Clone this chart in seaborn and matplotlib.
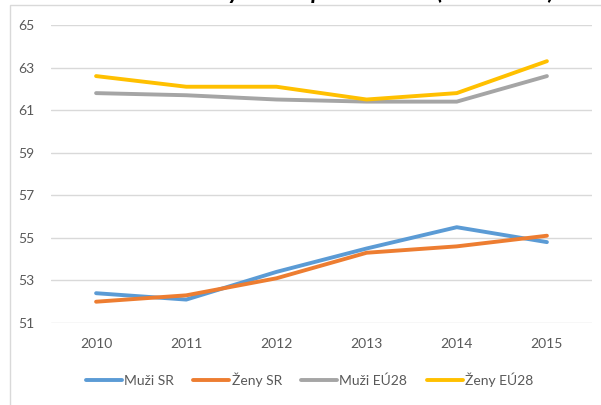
import matplotlib
matplotlib.use("Agg")
import matplotlib.pyplot as plt
import matplotlib.patches as mpatches
import pandas as pd
import seaborn as sns

# ---------- DATA ----------
YEARS = [2010, 2011, 2012, 2013, 2014, 2015]
SERIES = ["Muži SR", "Ženy SR", "Muži EÚ28", "Ženy EÚ28"]
MUZI_SR = [52.4, 52.1, 53.4, 54.5, 55.5, 54.8]
ZENY_SR = [52.0, 52.3, 53.1, 54.3, 54.6, 55.1]
MUZI_EU = [61.8, 61.7, 61.5, 61.4, 61.4, 62.6]
ZENY_EU = [62.6, 62.1, 62.1, 61.5, 61.8, 63.3]
Y_TICKS = [51, 53, 55, 57, 59, 61, 63, 65]
TITLE = "Zdravé roky života pri narodení (SR a EÚ28)"

COLORS = ["#5B9BD5", "#ED7D31", "#A5A5A5", "#FFC000"]

# ---------- LONG FORM ----------
rows = []
for name, vals in zip(SERIES, [MUZI_SR, ZENY_SR, MUZI_EU, ZENY_EU]):
    for y, v in zip(YEARS, vals):
        rows.append({"rok": y, "hodnota": v, "seria": name})
df = pd.DataFrame(rows)

sns.set_theme(style="white")
plt.rcParams["font.family"] = ["Lato", "DejaVu Sans"]

W, H = 601, 405
fig = plt.figure(figsize=(W / 100, H / 100), dpi=100)
ax = fig.add_axes([51 / W, 1 - 323 / H, (592 - 51) / W, (323 - 25) / H])

sns.lineplot(data=df, x="rok", y="hodnota", hue="seria", hue_order=SERIES,
             palette=COLORS, linewidth=2.8, ax=ax, legend=True,
             solid_capstyle="round")

ax.set_xlim(YEARS[0] - 0.5, YEARS[-1] + 0.5)
ax.set_ylim(Y_TICKS[0], Y_TICKS[-1])
ax.set_xticks(YEARS)
ax.set_yticks(Y_TICKS)
ax.set_xlabel("")
ax.set_ylabel("")
ax.grid(axis="y", color="#D9D9D9", linewidth=1.0)
ax.set_axisbelow(True)
for s in ax.spines.values():
    s.set_visible(False)
ax.tick_params(axis="both", length=0, labelsize=10, labelcolor="#595959")
ax.tick_params(axis="y", pad=12)
ax.tick_params(axis="x", pad=11)

ax.legend(loc="center", bbox_to_anchor=(0.515, 1 - 380 / H),
          bbox_transform=fig.transFigure, ncol=4, frameon=False,
          fontsize=10, handlelength=2.6, handletextpad=0.15,
          columnspacing=1.4, labelcolor="#595959")

# chart border (cropped)
fig.patches.append(mpatches.Rectangle((10 / W, -0.1), 1.1, 1 - 5 / H + 0.1,
                                      transform=fig.transFigure, fill=False,
                                      edgecolor="#D9D9D9", linewidth=1.0))

# title, mostly cut off at the top
fig.text(0.563, 1 + 0.5 / H, TITLE, ha="center", va="baseline",
         fontsize=17, fontweight="bold", fontstyle="italic", color="black")

fig.savefig("out.png", dpi=100)
